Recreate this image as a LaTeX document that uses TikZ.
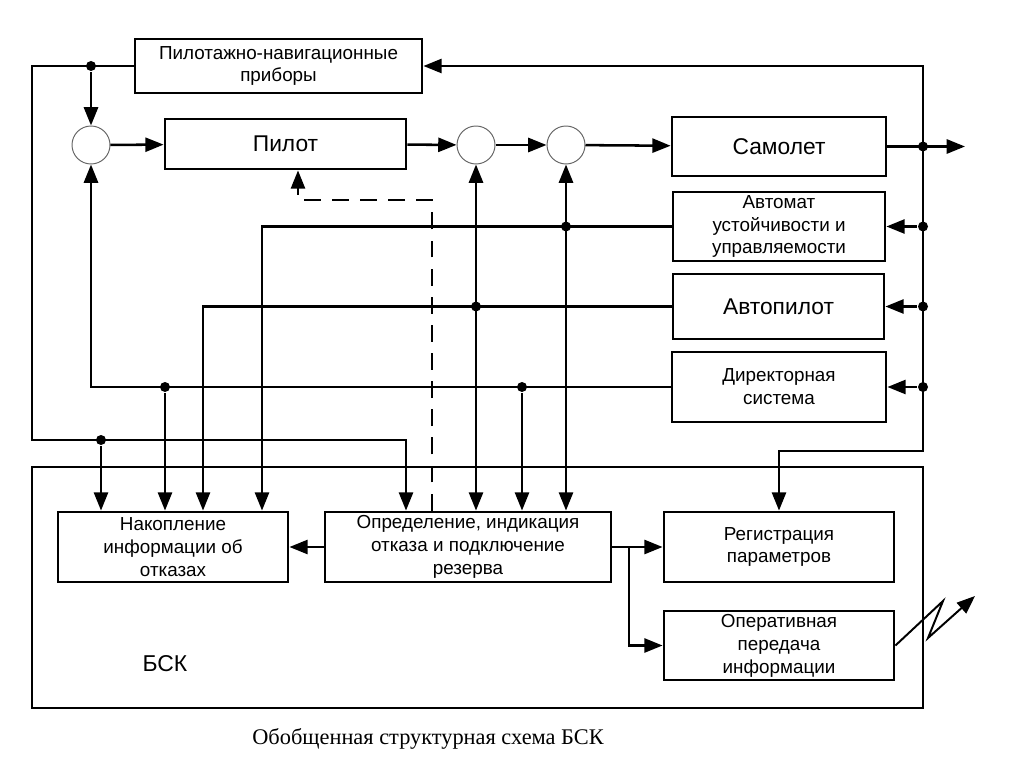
\documentclass[tikz,border=0pt]{standalone}
\usepackage{fontspec}
\setmainfont{Liberation Sans}
\newfontfamily\capfont{Liberation Serif}
\usetikzlibrary{calc, arrows.meta}
\newcommand{\pxu}{0.025cm}
\tikzstyle{blk}=[draw, line width=2pt, align=center, inner sep=1pt, font=\fontsize{13.4}{16.3}\selectfont]
\tikzstyle{big}=[font=\fontsize{16.2}{19}\selectfont]
\tikzstyle{sum}=[draw=black!60, line width=0.7pt, circle, minimum size=38*\pxu, inner sep=0pt]
\tikzstyle{dot}=[circle, fill, inner sep=0pt, minimum size=10*\pxu]

\begin{document}
\begin{tikzpicture}[x=\pxu, y=-\pxu, line width=1.8pt, >={Triangle[length=13pt,width=10pt]}]
        \useasboundingbox (0,0) rectangle (1024,767);
        \node [blk, minimum width=287*\pxu, minimum height=54*\pxu] (nav) at (278.5,66) {Пилотажно-навигационные\\приборы};
        \node [blk, big, minimum width=241*\pxu, minimum height=50*\pxu] (pilot) at (285.5,144) {Пилот};
        \node [sum] (s1) at (91,145) {};
        \node [sum] (s2) at (476,145) {};
        \node [sum] (s3) at (566,145) {};
        \node [blk, big, minimum width=214*\pxu, minimum height=59*\pxu] (sam) at (779,146.5) {Самолет};
        \node [blk, minimum width=212*\pxu, minimum height=69*\pxu] (aut) at (779,226.5) {Автомат\\устойчивости и\\управляемости};
        \node [blk, big, minimum width=211*\pxu, minimum height=65*\pxu] (ap) at (778.5,306.5) {Автопилот};
        \node [blk, minimum width=214*\pxu, minimum height=70*\pxu] (dir) at (779,387) {Директорная\\система};
        \node [draw, line width=1.8pt, minimum width=891*\pxu, minimum height=241*\pxu] (bsk) at (477.5,587.5) {};
        \node [blk, minimum width=230*\pxu, minimum height=70*\pxu] (nak) at (173,547) {Накопление\\информации об\\отказах};
        \node [blk, minimum width=286*\pxu, minimum height=70*\pxu] (opr) at (468,547) {Определение, индикация\\отказа и подключение\\резерва};
        \node [blk, minimum width=230*\pxu, minimum height=70*\pxu] (reg) at (779,547) {Регистрация\\параметров};
        \node [blk, minimum width=230*\pxu, minimum height=69*\pxu] (oper) at (779,645.5) {Оперативная\\передача\\информации};
        \node [font=\fontsize{16.3}{19}\selectfont] (lbl) at (165,664) {БСК};
        \node [font=\capfont\fontsize{15.9}{19}\selectfont] (cap) at (428,739) {Обобщенная структурная схема БСК};

        \coordinate (lt) at (32,440);
        \coordinate (k1) at (406,440);
        \coordinate (rt) at (923,66);
        \coordinate (rb) at (923,451);
        \coordinate (out) at (965,146.5);
        \coordinate (ta) at (262,226.5);
        \coordinate (tb) at (203,306.5);
        \coordinate (d1) at (432,200);
        \coordinate (d2) at (298,200);
        \coordinate (br) at (629,547);
        \coordinate (z1) at (943,601);
        \coordinate (z2) at (928,638);
        \coordinate (z3) at (975,596);

        \node [dot] (j1) at (nav.west -| s1) {};
        \node [dot] (j2) at (101,440) {};
        \node [dot] (j3) at (s3 |- aut.west) {};
        \node [dot] (j4) at (s2 |- ap.west) {};
        \node [dot] (j5) at (165,387) {};
        \node [dot] (j6) at (522,387) {};
        \foreach \b in {sam,aut,ap,dir}
            \node [dot] (r-\b) at (\b.east -| rt) {};

        \draw[->] (nav.west) -| (lt) -- (k1) -- (k1 |- opr.north);
        \draw[->] (j1) -- (s1);
        \draw[->] (j2) -- (j2 |- nak.north);
        \draw[->] (s1) -- (pilot);
        \draw[->] (pilot) -- (s2);
        \draw[->] (s2) -- (s3);
        \draw[->] (s3) -- (sam);
        \draw[->] (sam) -- (out);
        \draw[<->] (nav.east) -- (rt) -- (rb) -| (reg.north);
        \foreach \b in {aut,ap,dir}
            \draw[->] (r-\b) -- (\b.east);
        \draw[->] (aut.west) -- (ta) -- (ta |- nak.north);
        \draw[->] (ap.west) -- (tb) -- (tb |- nak.north);
        \draw[->] (dir.west) -| (s1);
        \draw[<->] (s3) -- (s3 |- opr.north);
        \draw[<->] (s2) -- (s2 |- opr.north);
        \draw[->] (j5) -- (j5 |- nak.north);
        \draw[->] (j6) -- (j6 |- opr.north);
        \draw[->, dash pattern=on 12pt off 8pt] (d1 |- opr.north) -- (d1) -- (d2) -- (d2 |- pilot.south);
        \draw[->] (opr) -- (nak);
        \draw[->] (opr) -- (reg);
        \draw[->] (br) |- (oper.west);
        \draw[->, line width=1.4pt] (oper.east) -- (z1) -- (z2) -- (z3);
    \end{tikzpicture}
\end{document}
